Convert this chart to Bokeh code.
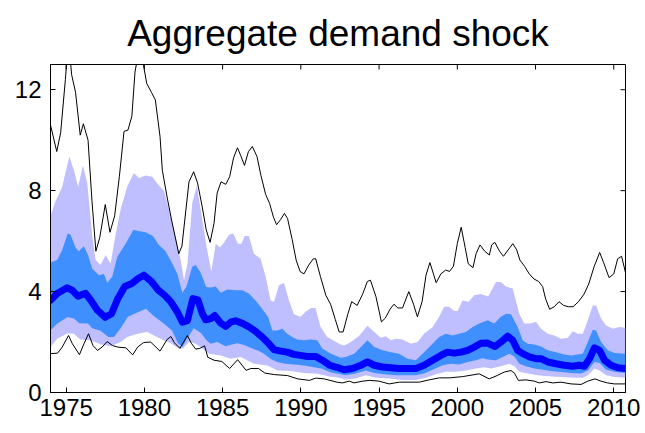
import math
from bokeh.plotting import figure
from bokeh.models import Range1d, FixedTicker, Title
from bokeh.embed import file_html
from bokeh.resources import INLINE

# ---- data ----
title_text = "Aggregate demand shock"
x_ticks = [1975, 1980, 1985, 1990, 1995, 2000, 2005, 2010]
y_ticks = [0, 4, 8, 12]
x_min, x_max = 1974.0, 2010.75
y_min, y_max = 0, 13

# upper black envelope
hi_x = [1974.0, 1974.4, 1974.65, 1974.95, 1975.15, 1975.35, 1975.6, 1975.9, 1976.1, 1976.4,
        1976.65, 1976.9, 1977.15, 1977.5, 1977.8, 1978.1, 1978.4, 1978.7, 1978.95, 1979.2,
        1979.4, 1979.6, 1979.85, 1980.15, 1980.45, 1980.7, 1981.0, 1981.15, 1981.45, 1981.75,
        1982.2, 1982.4, 1982.85, 1983.15, 1983.4, 1983.7, 1983.95, 1984.2, 1984.45, 1984.65,
        1984.9, 1985.2, 1985.45, 1985.7, 1985.95, 1986.15, 1986.4, 1986.65, 1986.9, 1987.2,
        1987.45, 1987.75, 1988.0, 1988.25, 1988.45, 1988.7, 1988.95, 1989.15, 1989.45, 1989.7,
        1989.95, 1990.2, 1990.5, 1990.8, 1990.95, 1991.25, 1991.6, 1991.9, 1992.2, 1992.45,
        1992.7, 1993.0, 1993.25, 1993.6, 1993.95, 1994.25, 1994.45, 1994.8, 1995.15, 1995.4,
        1995.7, 1995.95, 1996.2, 1996.5, 1996.9, 1997.2, 1997.45, 1997.75, 1998.0, 1998.25,
        1998.65, 1998.95, 1999.25, 1999.5, 1999.75, 2000.0, 2000.25, 2000.5, 2000.7, 2001.0,
        2001.2, 2001.45, 2001.75, 2002.05, 2002.2, 2002.4, 2002.7, 2002.95, 2003.25, 2003.55,
        2003.8, 2004.0, 2004.3, 2004.6, 2004.9, 2005.2, 2005.45, 2005.65, 2005.9, 2006.2,
        2006.5, 2006.8, 2007.1, 2007.4, 2007.75, 2008.1, 2008.4, 2008.75, 2009.1, 2009.35,
        2009.7, 2010.0, 2010.25, 2010.5, 2010.75]
hi_y = [10.6, 9.55, 10.3, 12.4, 14.0, 12.6, 11.9, 10.2, 10.65, 10.0,
        7.6, 5.6, 6.15, 7.45, 6.35, 7.0, 8.55, 10.35, 10.4, 10.95,
        12.7, 13.4, 13.3, 12.25, 11.9, 11.6, 10.15, 8.8, 7.75, 6.8,
        5.5, 5.8, 8.35, 8.75, 8.3, 7.35, 6.45, 5.95, 6.7, 7.9,
        8.35, 8.25, 8.55, 9.3, 9.7, 9.4, 9.0, 9.55, 9.75, 9.35,
        8.6, 7.85, 7.5, 6.95, 6.65, 6.85, 7.1, 6.9, 6.05, 5.25,
        4.8, 4.7, 5.05, 5.3, 5.3, 4.6, 3.85, 3.5, 2.9, 2.4,
        2.4, 3.1, 3.6, 3.45, 3.9, 4.4, 4.45, 3.8, 2.8, 2.95,
        3.3, 3.5, 3.35, 3.35, 4.0, 3.5, 3.0, 3.6, 4.65, 5.15,
        4.35, 4.7, 4.85, 4.8, 5.0, 5.9, 6.55, 5.75, 5.1, 4.95,
        5.5, 5.85, 5.6, 5.45, 5.85, 5.95, 5.6, 5.4, 5.65, 5.9,
        5.65, 5.25, 5.0, 4.7, 4.5, 4.4, 4.2, 3.7, 3.3, 3.4,
        3.6, 3.45, 3.4, 3.4, 3.6, 3.9, 4.3, 5.0, 5.55, 5.15,
        4.55, 4.7, 5.3, 5.4, 4.75]

# lower black envelope
lo_x = [1974.0, 1974.45, 1974.75, 1975.15, 1975.4, 1975.85, 1976.14, 1976.43, 1976.72, 1977.0,
        1977.3, 1977.62, 1977.96, 1978.3, 1978.82, 1979.25, 1979.57, 1979.95, 1980.4, 1981.0,
        1981.45, 1981.7, 1981.92, 1982.27, 1982.75, 1983.0, 1983.28, 1983.55, 1983.85, 1984.05,
        1984.45, 1984.95, 1985.45, 1985.96, 1986.5, 1986.8, 1987.3, 1987.7, 1988.3, 1989.15,
        1989.8, 1990.55, 1990.95, 1991.5, 1992.3, 1992.65, 1993.1, 1993.4, 1993.95, 1994.4,
        1995.0, 1995.64, 1996.3, 1997.57, 1998.2, 1998.85, 1999.5, 2000.34, 2001.4, 2002.04,
        2002.58, 2003.0, 2003.43, 2003.65, 2003.9, 2004.39, 2004.92, 2005.24, 2005.67, 2006.1,
        2006.63, 2007.27, 2007.91, 2008.34, 2008.8, 2009.19, 2009.6, 2010.04, 2010.75]
lo_y = [1.54, 1.56, 1.8, 2.26, 1.93, 1.5, 1.93, 2.33, 1.86, 1.67,
        1.8, 2.02, 1.86, 1.8, 1.77, 1.49, 1.8, 1.98, 2.0, 1.64,
        2.1, 2.22, 1.97, 1.75, 2.26, 1.95, 1.72, 1.75, 1.85, 1.4,
        1.28, 1.23, 0.95, 1.3, 0.88, 0.95, 0.95, 0.77, 0.71, 0.67,
        0.54, 0.48, 0.57, 0.54, 0.41, 0.38, 0.45, 0.38, 0.45, 0.48,
        0.45, 0.34, 0.41, 0.41, 0.5, 0.58, 0.58, 0.63, 0.74, 0.54,
        0.68, 0.81, 0.87, 0.77, 0.48, 0.5, 0.45, 0.38, 0.43, 0.38,
        0.41, 0.34, 0.32, 0.45, 0.54, 0.45, 0.38, 0.34, 0.34]

# outer band, upper edge
lu_x = [1974.0, 1974.3, 1974.75, 1975.2, 1975.5, 1975.77, 1976.07, 1976.35, 1976.67, 1976.88,
        1977.2, 1977.52, 1977.84, 1978.16, 1978.48, 1978.9, 1979.33, 1979.65, 1980.08, 1980.5,
        1980.93, 1981.25, 1981.57, 1982.0, 1982.32, 1982.53, 1982.75, 1983.06, 1983.35, 1983.7,
        1983.98, 1984.28, 1984.56, 1984.83, 1985.09, 1985.41, 1985.68, 1985.98, 1986.2, 1986.41,
        1986.68, 1987.0, 1987.43, 1987.75, 1988.07, 1988.29, 1988.6, 1988.92, 1989.24, 1989.56,
        1989.98, 1990.3, 1990.66, 1990.94, 1991.26, 1991.69, 1992.11, 1992.54, 1992.77, 1993.2,
        1993.73, 1994.26, 1994.69, 1995.11, 1995.43, 1995.75, 1996.07, 1996.5, 1997.03, 1997.46,
        1997.88, 1998.42, 1998.84, 1999.16, 1999.48, 1999.8, 2000.02, 2000.34, 2000.72, 2001.08,
        2001.51, 2001.98, 2002.47, 2002.79, 2003.11, 2003.54, 2003.96, 2004.28, 2004.71, 2005.03,
        2005.35, 2005.78, 2006.2, 2006.63, 2007.06, 2007.38, 2007.7, 2008.02, 2008.34, 2008.66,
        2008.87, 2009.19, 2009.51, 2009.94, 2010.36, 2010.75]
lu_y = [7.0, 7.55, 8.15, 9.35, 8.8, 8.15, 9.0, 8.3, 6.2, 5.25,
        5.05, 5.45, 5.1, 6.25, 7.25, 8.15, 8.7, 8.5, 8.6, 8.55,
        8.2, 8.0, 7.25, 6.15, 5.25, 4.45, 5.1, 7.5, 8.2, 6.85,
        5.75, 4.8, 5.9, 5.75, 5.95, 6.25, 6.3, 5.9, 5.9, 6.2,
        6.2, 5.5, 5.3, 4.6, 3.65, 3.6, 4.25, 4.35, 3.65, 3.1,
        3.0, 3.2, 3.35, 3.35, 2.6, 2.2, 2.05, 1.9, 1.86, 2.0,
        2.25, 2.65, 2.4, 2.17, 2.23, 2.07, 2.13, 2.1, 1.93, 2.0,
        2.33, 2.6, 3.0, 3.4, 3.4, 3.23, 3.23, 3.65, 3.6, 3.85,
        3.9, 3.8, 4.38, 4.38, 4.2, 4.12, 3.12, 2.73, 2.73, 2.8,
        2.53, 2.33, 2.26, 2.13, 2.16, 2.43, 2.33, 2.33, 2.86, 3.45,
        3.45, 2.93, 2.66, 2.53, 2.6, 2.57]

# outer band, lower edge
ll_x = [1974.0, 1974.43, 1975.1, 1975.49, 1975.9, 1976.56, 1977.2, 1977.84, 1978.48, 1978.9,
        1979.55, 1980.19, 1980.7, 1981.24, 1981.65, 1982.2, 1982.45, 1982.85, 1983.28, 1983.7,
        1984.13, 1984.88, 1985.52, 1986.15, 1987.0, 1987.87, 1988.5, 1989.35, 1990.2, 1991.05,
        1991.9, 1992.23, 1992.87, 1993.51, 1994.15, 1994.8, 1995.65, 1996.5, 1997.35, 1997.99,
        1998.63, 1999.27, 1999.91, 2000.55, 2001.19, 2001.7, 2002.15, 2002.79, 2003.32, 2003.65,
        2003.96, 2004.5, 2005.14, 2005.78, 2006.63, 2007.48, 2008.02, 2008.34, 2008.77, 2009.09,
        2009.51, 2010.04, 2010.75]
ll_y = [1.8, 2.13, 2.35, 2.33, 2.1, 2.07, 1.91, 1.83, 2.0, 2.2,
        2.33, 2.4, 2.23, 2.07, 1.96, 1.74, 1.74, 2.0, 1.93, 1.74,
        1.54, 1.47, 1.34, 1.41, 1.14, 1.07, 0.87, 0.85, 0.77, 0.74,
        0.62, 0.61, 0.52, 0.55, 0.68, 0.58, 0.55, 0.5, 0.5, 0.58,
        0.72, 0.82, 0.82, 0.87, 0.95, 1.0, 0.95, 1.04, 1.14, 1.04,
        0.82, 0.75, 0.68, 0.64, 0.61, 0.58, 0.58, 0.68, 0.95, 0.87,
        0.68, 0.61, 0.58]

# inner band, upper edge
du_x = [1974.0, 1974.43, 1974.75, 1975.1, 1975.28, 1975.6, 1975.8, 1976.13, 1976.4, 1976.67,
        1977.1, 1977.41, 1977.63, 1977.95, 1978.27, 1978.8, 1979.3, 1979.6, 1980.08, 1980.55,
        1980.93, 1981.36, 1981.79, 1982.11, 1982.43, 1982.69, 1983.06, 1983.28, 1983.6, 1983.95,
        1984.24, 1984.56, 1984.88, 1985.3, 1985.83, 1986.26, 1986.68, 1987.0, 1987.43, 1987.9,
        1988.18, 1988.5, 1988.81, 1989.13, 1989.45, 1989.77, 1990.2, 1990.62, 1991.05, 1991.37,
        1991.9, 1992.54, 1992.87, 1993.41, 1993.84, 1994.26, 1994.69, 1995.22, 1995.75, 1996.28,
        1996.82, 1997.35, 1997.78, 1998.31, 1998.84, 1999.27, 1999.69, 2000.12, 2000.55, 2000.98,
        2001.4, 2001.94, 2002.36, 2002.79, 2003.11, 2003.43, 2003.86, 2004.18, 2004.5, 2004.92,
        2005.35, 2005.78, 2006.31, 2006.84, 2007.27, 2007.7, 2008.02, 2008.34, 2008.66, 2008.87,
        2009.19, 2009.62, 2010.04, 2010.75]
du_y = [5.15, 5.25, 5.65, 6.3, 6.25, 5.75, 5.6, 5.8, 5.45, 4.9,
        4.65, 4.7, 4.35, 4.6, 5.38, 5.9, 6.45, 6.4, 6.35, 6.2,
        5.85, 5.6, 5.1, 4.7, 3.95, 4.2, 4.98, 5.05, 4.75, 4.18,
        4.16, 4.2, 3.95, 4.08, 4.05, 4.05, 3.92, 3.72, 3.4, 3.0,
        2.46, 2.46, 2.53, 2.33, 2.2, 2.1, 2.07, 2.1, 2.07, 1.74,
        1.55, 1.38, 1.41, 1.54, 1.8, 2.07, 1.8, 1.67, 1.6, 1.54,
        1.34, 1.28, 1.54, 1.86, 2.2, 2.33, 2.26, 2.33, 2.4, 2.6,
        2.73, 2.86, 2.73, 3.0, 3.12, 3.1, 2.6, 2.07, 1.93, 1.9,
        1.82, 1.67, 1.6, 1.51, 1.47, 1.51, 1.54, 2.0, 2.49, 2.46,
        2.0, 1.67, 1.57, 1.54]

# inner band, lower edge
dl_x = [1974.0, 1974.43, 1975.1, 1975.49, 1975.85, 1976.4, 1976.67, 1977.2, 1977.7, 1978.06,
        1978.48, 1978.95, 1979.55, 1980.1, 1980.6, 1981.24, 1981.77, 1982.15, 1982.43, 1982.75,
        1983.15, 1983.6, 1984.0, 1984.24, 1984.66, 1985.2, 1985.6, 1985.94, 1986.37, 1986.9,
        1987.3, 1987.64, 1988.1, 1988.5, 1988.92, 1989.34, 1989.77, 1990.3, 1990.84, 1991.3,
        1991.9, 1992.54, 1992.87, 1993.51, 1994.15, 1994.69, 1995.33, 1996.07, 1996.71, 1997.35,
        1997.88, 1998.42, 1999.06, 1999.59, 2000.12, 2000.66, 2001.19, 2001.6, 2002.04, 2002.47,
        2002.9, 2003.32, 2003.65, 2003.96, 2004.39, 2004.92, 2005.46, 2005.99, 2006.63, 2007.27,
        2007.91, 2008.34, 2008.77, 2009.09, 2009.51, 2010.04, 2010.75]
dl_y = [2.46, 2.73, 2.99, 2.93, 2.74, 2.73, 2.55, 2.45, 2.2, 2.2,
        2.55, 3.0, 3.17, 3.32, 3.03, 2.73, 2.46, 1.95, 1.8, 2.15,
        2.55, 2.37, 2.05, 1.93, 2.0, 1.83, 1.9, 1.95, 1.88, 1.74,
        1.65, 1.54, 1.32, 1.21, 1.15, 1.12, 1.1, 1.06, 1.0, 0.95,
        0.8, 0.72, 0.68, 0.75, 0.87, 0.77, 0.72, 0.68, 0.68, 0.68,
        0.75, 0.9, 1.08, 1.14, 1.11, 1.21, 1.28, 1.36, 1.3, 1.28,
        1.41, 1.54, 1.43, 1.14, 1.04, 0.95, 0.9, 0.85, 0.81, 0.77,
        0.75, 0.87, 1.21, 1.17, 0.9, 0.82, 0.77]

# median
md_x = [1974.0, 1974.43, 1975.07, 1975.4, 1975.75, 1976.24, 1976.58, 1977.0, 1977.5, 1977.9,
        1978.3, 1978.75, 1979.2, 1979.6, 1979.97, 1980.45, 1980.9, 1981.3, 1981.68, 1982.1,
        1982.43, 1982.75, 1983.1, 1983.42, 1983.7, 1983.92, 1984.24, 1984.5, 1984.88, 1985.2,
        1985.55, 1985.83, 1986.3, 1986.68, 1987.11, 1987.53, 1987.96, 1988.29, 1988.71, 1989.13,
        1989.56, 1989.98, 1990.41, 1990.94, 1991.37, 1991.85, 1992.3, 1992.77, 1993.3, 1993.84,
        1994.26, 1994.69, 1995.22, 1995.75, 1996.28, 1996.82, 1997.35, 1997.88, 1998.42, 1998.95,
        1999.37, 1999.8, 2000.23, 2000.66, 2001.08, 2001.51, 2001.94, 2002.41, 2002.79, 2003.22,
        2003.54, 2003.86, 2004.18, 2004.61, 2005.03, 2005.35, 2005.78, 2006.31, 2006.84, 2007.38,
        2007.8, 2008.12, 2008.45, 2008.77, 2009.09, 2009.41, 2009.83, 2010.26, 2010.75]
md_y = [3.66, 3.92, 4.15, 4.05, 3.82, 3.93, 3.65, 3.26, 2.98, 3.12,
        3.72, 4.2, 4.32, 4.52, 4.65, 4.4, 4.05, 3.85, 3.6, 3.2,
        2.79, 2.85, 3.72, 3.67, 3.13, 2.88, 2.93, 3.05, 2.75, 2.62,
        2.8, 2.84, 2.73, 2.6, 2.42, 2.2, 1.93, 1.7, 1.64, 1.6,
        1.51, 1.47, 1.43, 1.43, 1.28, 1.08, 1.0, 0.9, 0.95, 1.08,
        1.21, 1.08, 1.01, 0.98, 0.95, 0.95, 0.95, 1.08, 1.28, 1.47,
        1.6, 1.56, 1.6, 1.67, 1.8, 1.95, 1.96, 1.82, 2.0, 2.23,
        2.07, 1.67, 1.54, 1.41, 1.34, 1.34, 1.21, 1.14, 1.08, 1.04,
        1.08, 1.04, 1.34, 1.77, 1.67, 1.28, 1.08, 0.98, 0.95]

# ---- figure ----
FONT = "Liberation Sans"
p = figure(frame_width=575, frame_height=328, output_backend="svg", toolbar_location=None,
           x_range=Range1d(x_min, x_max), y_range=Range1d(y_min, y_max),
           min_border_left=50, min_border_right=18, min_border_top=64, min_border_bottom=30,
           background_fill_color="white", border_fill_color="white")
p.title = Title(text=title_text, text_font=FONT, text_font_size="37px",
                text_font_style="normal", text_color="black", align="center", standoff=21)
p.xgrid.grid_line_color = None
p.ygrid.grid_line_color = None
p.outline_line_color = "black"
p.outline_line_width = 1

outer_x = lu_x + ll_x[::-1]
outer_y = lu_y + ll_y[::-1]
inner_x = du_x + dl_x[::-1]
inner_y = du_y + dl_y[::-1]
p.patch(outer_x, outer_y, fill_color="#BFBFFF", line_color=None)
p.patch(inner_x, inner_y, fill_color="#3F8FFF", line_color=None)
p.line(md_x, md_y, line_color="#0000FF", line_width=7, line_join="round", line_cap="round")
p.line(hi_x, hi_y, line_color="black", line_width=1)
p.line(lo_x, lo_y, line_color="black", line_width=1)

# inward tick marks on the top and right frame edges (half of each dash is clipped by the frame)
p.scatter(x_ticks, [y_max] * len(x_ticks), marker="dash", angle=math.pi / 2, size=10,
          line_color="black", line_width=1)
p.scatter([x_max] * len(y_ticks), y_ticks, marker="dash", size=10,
          line_color="black", line_width=1)

for ax in (p.xaxis[0], p.yaxis[0]):
    ax.major_tick_in = 5
    ax.major_tick_out = 0
    ax.minor_tick_line_color = None
    ax.axis_line_color = "black"
    ax.major_tick_line_color = "black"
    ax.major_label_text_font = FONT
    ax.major_label_text_font_size = "24px"
    ax.major_label_text_color = "black"
p.xaxis[0].ticker = FixedTicker(ticks=x_ticks)
p.yaxis[0].ticker = FixedTicker(ticks=y_ticks)
p.xaxis[0].major_label_standoff = 6
p.yaxis[0].major_label_standoff = 9

open("out.html", "w").write(file_html(p, INLINE))
